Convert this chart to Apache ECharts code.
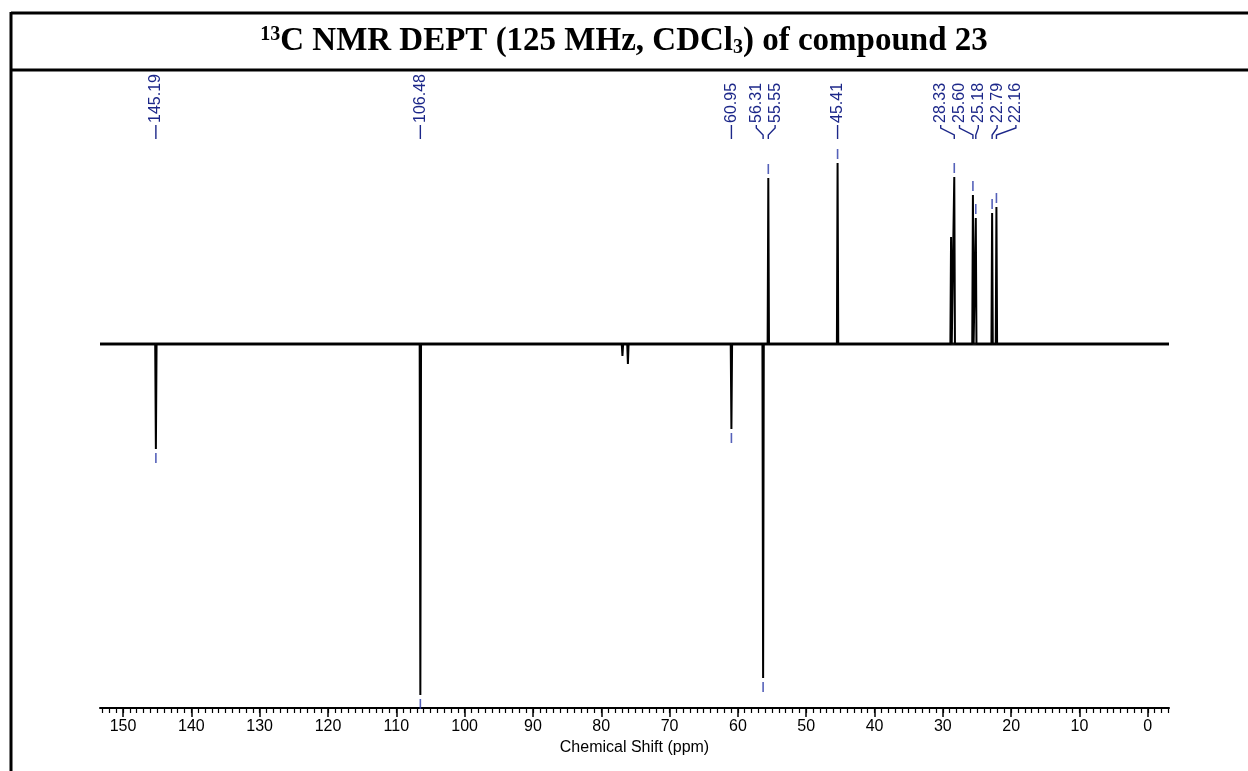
<!DOCTYPE html>
<html>
<head>
<meta charset="utf-8">
<script src="https://cdn.jsdelivr.net/npm/echarts@6/dist/echarts.min.js"></script>
<style>
  html, body { margin: 0; padding: 0; background: #ffffff; }
  #chart { width: 1248px; height: 771px; }
</style>
</head>
<body>
<div id="chart"></div>
<script>
// Labelled DEPT-135 signals: chemical shift (ppm) and phased intensity (arb. units, CH2 negative)
const peakShifts = [145.19, 106.48, 60.95, 56.31, 55.55, 45.41, 28.33, 25.60, 25.18, 22.79, 22.16];
const peakIntensities = [-105, -351, -85, -334, 166, 181, 167, 149, 126, 131, 137];

// Unlabelled signals: residual solvent near 77 ppm and the shoulder beside 28.33
const minorShifts = [76.9, 76.1, 28.80];
const minorIntensities = [-12, -20, 107];

// Axis ticks and plotted ranges
const xTickLabels = [150, 140, 130, 120, 110, 100, 90, 80, 70, 60, 50, 40, 30, 20, 10, 0];
const xRange = [-3.1, 153.37];
const yRange = [-364, 244];

const LABEL_BLUE = '#1c2789';

// one-ppm minor ticks across the visible range
const minorTicks = [];
for (let v = Math.ceil(xRange[0]); v <= Math.floor(xRange[1]); v++) minorTicks.push(v);

// stick spectrum: each signal is a narrow spike rising from the baseline
function buildSpectrum() {
  const sig = peakShifts.map((s, i) => [s, peakIntensities[i]])
    .concat(minorShifts.map((s, i) => [s, minorIntensities[i]]))
    .sort((a, b) => b[0] - a[0]);
  const hw = 0.1;
  const pts = [[xRange[1], 0]];
  sig.forEach(([s, h]) => {
    pts.push([s + hw, 0], [s, h], [s - hw, 0]);
  });
  pts.push([xRange[0], 0]);
  return pts;
}

// spread crowded labels apart, keeping each cluster centred on its peaks
function spreadLabels(px, gap) {
  let groups = px.map(x => [x]);
  const place = g => {
    const mean = g.reduce((a, b) => a + b, 0) / g.length;
    const start = mean - (g.length - 1) * gap / 2;
    return g.map((_, k) => start + k * gap);
  };
  let merged = true;
  while (merged) {
    merged = false;
    for (let i = 0; i < groups.length - 1; i++) {
      const a = place(groups[i]), b = place(groups[i + 1]);
      if (b[0] - a[a.length - 1] < gap) {
        groups[i] = groups[i].concat(groups[i + 1]);
        groups.splice(i + 1, 1);
        merged = true;
        break;
      }
    }
  }
  return groups.reduce((out, g) => out.concat(place(g)), []);
}

function renderPeakLabels(params, api) {
  if (params.dataIndex > 0) return null;
  const top = api.coord([xRange[1], yRange[1]])[1];
  const px = peakShifts.map(s => api.coord([s, 0])[0]);
  const lx = spreadLabels(px, 18.8);
  const children = [];
  peakShifts.forEach((s, i) => {
    children.push({
      type: 'text',
      x: lx[i],
      y: top + 23,
      rotation: Math.PI / 2,
      style: {
        text: s.toFixed(2),
        x: 0, y: 0,
        align: 'left',
        verticalAlign: 'middle',
        fill: LABEL_BLUE,
        font: '16px "Liberation Sans", Arial, sans-serif'
      }
    });
    const pts = Math.abs(lx[i] - px[i]) < 0.8
      ? [[px[i], top + 25], [px[i], top + 39]]
      : [[lx[i], top + 25], [lx[i], top + 28], [px[i], top + 35], [px[i], top + 39]];
    children.push({
      type: 'polyline',
      shape: { points: pts },
      style: { stroke: LABEL_BLUE, lineWidth: 1.4, fill: null }
    });
  });
  return { type: 'group', children };
}

const chart = echarts.init(document.getElementById('chart'), null, { renderer: 'canvas' });

chart.setOption({
  animation: false,
  backgroundColor: '#ffffff',
  grid: { left: 100, right: 79, top: 100, bottom: 63 },
  xAxis: [
    {
      type: 'value',
      inverse: true,
      min: xRange[0],
      max: xRange[1],
      position: 'bottom',
      axisLine: { show: true, onZero: false, lineStyle: { color: '#000', width: 2 } },
      axisTick: { show: true, length: 9, customValues: xTickLabels, lineStyle: { color: '#000', width: 1.5 } },
      axisLabel: {
        customValues: xTickLabels,
        margin: 11,
        color: '#000',
        fontSize: 16,
        fontFamily: '"Liberation Sans", Arial, sans-serif'
      },
      splitLine: { show: false },
      name: 'Chemical Shift (ppm)',
      nameLocation: 'middle',
      nameGap: 30,
      nameTextStyle: { color: '#000', fontSize: 16, fontFamily: '"Liberation Sans", Arial, sans-serif' }
    },
    {
      type: 'value',
      inverse: true,
      min: xRange[0],
      max: xRange[1],
      position: 'bottom',
      axisLine: { show: false, onZero: false },
      axisTick: { show: true, length: 5, customValues: minorTicks, lineStyle: { color: '#000', width: 1.2 } },
      axisLabel: { show: false },
      splitLine: { show: false }
    }
  ],
  yAxis: { type: 'value', min: yRange[0], max: yRange[1], show: false, splitLine: { show: false } },
  series: [
    {
      name: 'baseline',
      type: 'line',
      xAxisIndex: 0,
      data: [[xRange[1], 0], [xRange[0], 0]],
      showSymbol: false,
      silent: true,
      lineStyle: { color: '#111', width: 3 }
    },
    {
      name: 'DEPT-135',
      type: 'line',
      xAxisIndex: 0,
      data: buildSpectrum(),
      showSymbol: false,
      lineStyle: { color: '#000', width: 2 }
    },
    {
      name: 'peak markers',
      type: 'scatter',
      xAxisIndex: 0,
      symbol: 'rect',
      symbolSize: [1.6, 10],
      itemStyle: { color: '#2a3aa8' },
      data: peakShifts.map((s, i) => ({
        value: [s, peakIntensities[i]],
        symbolOffset: [0, peakIntensities[i] > 0 ? -9 : 9]
      }))
    },
    {
      name: 'peak labels',
      type: 'custom',
      xAxisIndex: 0,
      clip: false,
      silent: true,
      data: [[peakShifts[0], 0]],
      renderItem: renderPeakLabels
    }
  ],
  graphic: [
    { type: 'line', shape: { x1: 11, y1: 13, x2: 1248, y2: 13 }, style: { stroke: '#000', lineWidth: 3 } },
    { type: 'line', shape: { x1: 11, y1: 70, x2: 1248, y2: 70 }, style: { stroke: '#000', lineWidth: 3 } },
    { type: 'line', shape: { x1: 11, y1: 12, x2: 11, y2: 771 }, style: { stroke: '#000', lineWidth: 3 } },
    {
      type: 'text',
      x: 624,
      y: 41,
      style: {
        text: '{sup|13}{main|C NMR DEPT (125 MHz, CDCl}{sub|3}{main|) of compound 23}',
        align: 'center',
        verticalAlign: 'middle',
        rich: {
          main: { fontSize: 33, fontWeight: 'bold', fontFamily: '"Liberation Serif", "Times New Roman", serif', fill: '#000' },
          sup: { fontSize: 20, fontWeight: 'bold', fontFamily: '"Liberation Serif", "Times New Roman", serif', fill: '#000', verticalAlign: 'top' },
          sub: { fontSize: 20, fontWeight: 'bold', fontFamily: '"Liberation Serif", "Times New Roman", serif', fill: '#000', verticalAlign: 'bottom' }
        }
      }
    }
  ]
});
</script>
</body>
</html>
